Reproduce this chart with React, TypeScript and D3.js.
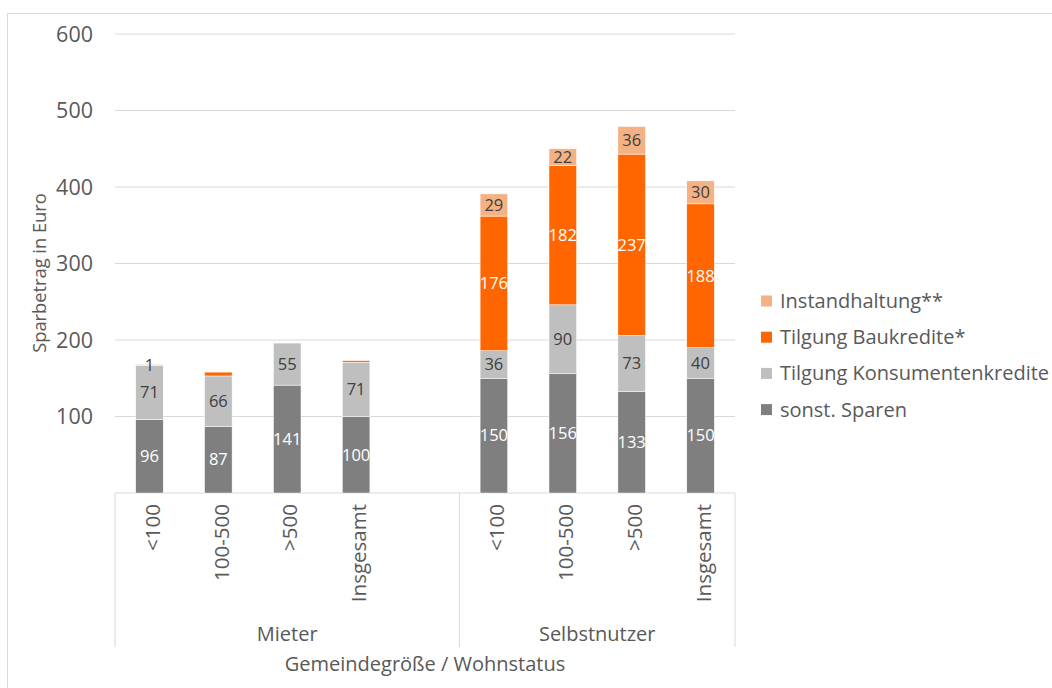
import React from "react";
import * as d3 from "d3";

// Categories: municipality size within housing status (slot 5 is an empty spacer in the Mieter group)
const categories = ["<100", "100-500", ">500", "Insgesamt", "", "<100", "100-500", ">500", "Insgesamt"];
const groups = [
  { name: "Mieter", from: 0, to: 5 },
  { name: "Selbstnutzer", from: 5, to: 9 },
];

// Series values (Euro), bottom to top
const sonstSparen = [96, 87, 141, 100, 0, 150, 156, 133, 150];
const konsumentenkredite = [71, 66, 55, 71, 0, 36, 90, 73, 40];
const baukredite = [0, 5, 0, 2, 0, 176, 182, 237, 188];
const instandhaltung = [1, 0, 0, 0, 0, 29, 22, 36, 30];

// Which values carry a data label
const sonstSparenLabel = [true, true, true, true, false, true, true, true, true];
const konsumentenLabel = [true, true, true, true, false, true, true, true, true];
const baukrediteLabel = [false, false, false, false, false, true, true, true, true];
const instandhaltungLabel = [true, false, false, false, false, true, true, true, true];

const yTicks = [100, 200, 300, 400, 500, 600];

const series = [
  { key: "sonst. Sparen", values: sonstSparen, labels: sonstSparenLabel, color: "#7f7f7f", text: "#ffffff" },
  { key: "Tilgung Konsumentenkredite", values: konsumentenkredite, labels: konsumentenLabel, color: "#bfbfbf", text: "#404040" },
  { key: "Tilgung Baukredite*", values: baukredite, labels: baukrediteLabel, color: "#ff6600", text: "#ffffff" },
  { key: "Instandhaltung**", values: instandhaltung, labels: instandhaltungLabel, color: "#f4b183", text: "#404040" },
];

const W = 1052;
const H = 688;
const FONT = "'Open Sans', 'Noto Sans', sans-serif";
const TEXT = "#595959";
const AXIS = "#d9d9d9";

export default function App() {
  const left = 115;
  const right = 735;
  const top = 34;
  const bottom = 493;
  const catBottom = 647;

  const x = d3
    .scaleBand<number>()
    .domain(d3.range(categories.length))
    .range([left, right])
    .paddingInner(0.6)
    .paddingOuter(0.3);
  const y = d3.scaleLinear().domain([0, 600]).range([bottom, top]);
  const step = x.step();

  const rows = categories.map((_, i) => {
    const r: Record<string, number> = {};
    series.forEach((s) => (r[s.key] = s.values[i]));
    return r;
  });
  const stacked = d3.stack<Record<string, number>>().keys(series.map((s) => s.key))(rows);

  const legendOrder = [...series].reverse();

  return (
    <svg
      width={W}
      height={H}
      style={{ position: "absolute", left: 0, top: 0, background: "#fff" }}
      fontFamily={FONT}
    >
      {/* chart frame */}
      <rect x={7.5} y={13.5} width={W + 10} height={H + 10} fill="none" stroke="#d9d9d9" strokeWidth={1} />

      {/* gridlines */}
      {yTicks.map((t) => (
        <line key={t} x1={left} x2={right} y1={y(t)} y2={y(t)} stroke={AXIS} strokeWidth={1} />
      ))}
      {yTicks.map((t) => (
        <text key={"l" + t} x={93} y={y(t)} dy="0.35em" textAnchor="end" fontSize={21.5} fill={TEXT}>
          {t}
        </text>
      ))}

      {/* category axis with group separators */}
      <line x1={left} x2={right} y1={bottom} y2={bottom} stroke={AXIS} strokeWidth={1} />
      {[0, 5, 9].map((i) => {
        const xx = left + i * step;
        return <line key={"v" + i} x1={xx} x2={xx} y1={bottom} y2={catBottom} stroke={AXIS} strokeWidth={1} />;
      })}

      {/* stacked bars */}
      {stacked.map((layer, si) => (
        <g key={layer.key} fill={series[si].color}>
          {layer.map((d, i) =>
            d[1] - d[0] > 0 ? (
              <rect
                key={i}
                x={x(i)}
                y={y(d[1])}
                width={x.bandwidth()}
                height={y(d[0]) - y(d[1])}
                stroke="#ffffff"
                strokeWidth={0.5}
              />
            ) : null
          )}
        </g>
      ))}

      {/* data labels */}
      {stacked.map((layer, si) =>
        layer.map((d, i) =>
          series[si].labels[i] ? (
            <text
              key={layer.key + i}
              x={(x(i) as number) + x.bandwidth() / 2}
              y={y((d[0] + d[1]) / 2)}
              dy="0.35em"
              textAnchor="middle"
              fontSize={16.5}
              fill={series[si].text}
            >
              {series[si].values[i]}
            </text>
          ) : null
        )
      )}

      {/* category labels */}
      {categories.map((c, i) =>
        c ? (
          <text
            key={"c" + i}
            transform={`translate(${(x(i) as number) + x.bandwidth() / 2 + 3},${504}) rotate(-90)`}
            dy="0.35em"
            textAnchor="end"
            fontSize={20.5}
            fill={TEXT}
          >
            {c}
          </text>
        ) : null
      )}

      {/* group labels */}
      {groups.map((g) => (
        <text
          key={g.name}
          x={left + ((g.from + g.to) / 2) * step}
          y={641}
          textAnchor="middle"
          fontSize={20}
          fill={TEXT}
        >
          {g.name}
        </text>
      ))}

      {/* axis titles */}
      <text x={(left + right) / 2} y={671} textAnchor="middle" fontSize={20} fill={TEXT}>
        Gemeindegröße / Wohnstatus
      </text>
      <text
        transform={`translate(40,273) rotate(-90)`}
        dy="0.35em"
        textAnchor="middle"
        fontSize={18.3}
        fill={TEXT}
      >
        Sparbetrag in Euro
      </text>

      {/* legend */}
      {legendOrder.map((s, i) => {
        const cy = 301 + i * 36.2;
        return (
          <g key={s.key}>
            <rect x={761} y={cy - 5.5} width={11} height={11} fill={s.color} />
            <text x={780} y={cy} dy="0.35em" fontSize={20} fill={TEXT}>
              {s.key}
            </text>
          </g>
        );
      })}
    </svg>
  );
}
